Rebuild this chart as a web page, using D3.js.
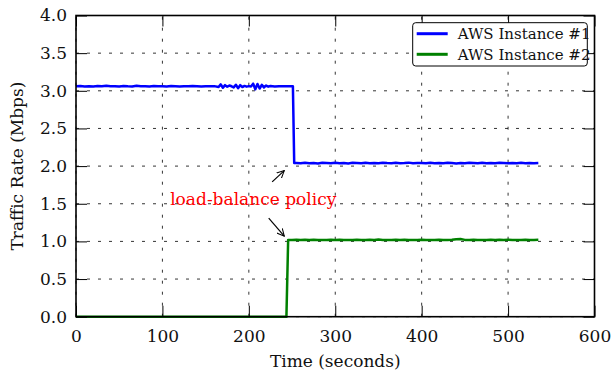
<!DOCTYPE html>
<html>
<head>
<meta charset="utf-8">
<title>traffic rate</title>
<script src="https://cdn.jsdelivr.net/npm/d3@7/dist/d3.min.js"></script>
<style>
  body{margin:0;background:#fff;}
  text{font-family:'DejaVu Serif',serif;fill:#111;}
</style>
</head>
<body>
<div id="chart"></div>
<script>
// tick values
var timeTicks = [0, 100, 200, 300, 400, 500, 600];
var rateTicks = [0, 0.5, 1.0, 1.5, 2.0, 2.5, 3.0, 3.5, 4.0];

// [seconds, Mbps]
var instance1 = [
  [0,3.060],[5,3.065],[10,3.058],[15,3.062],[20,3.057],[25,3.063],[30,3.060],[35,3.066],
  [40,3.059],[45,3.061],[50,3.056],[55,3.064],[60,3.060],[65,3.058],[70,3.067],[75,3.060],
  [80,3.062],[85,3.057],[90,3.063],[95,3.059],[100,3.061],[105,3.058],[110,3.064],[115,3.060],
  [120,3.057],[125,3.062],[130,3.059],[135,3.063],[140,3.060],[145,3.058],[150,3.061],[155,3.059],
  [160,3.062],[165,3.050],[167.5,3.085],[170,3.040],[172.5,3.075],[175,3.055],[177.5,3.070],
  [180,3.060],[182.5,3.045],[185,3.080],[187.5,3.035],[190,3.075],[192.5,3.050],[195,3.065],
  [197.5,3.055],[200,3.062],[202.5,3.058],[205,3.095],[207.5,3.020],[210,3.090],[212.5,3.030],
  [215,3.080],[217.5,3.045],[220,3.070],[222.5,3.055],[225,3.063],[230,3.058],[235,3.061],
  [240,3.060],[245,3.059],[250,3.062],[251,3.060],
  [252.5,2.040],[255,2.042],[260,2.037],[265,2.044],[270,2.039],[275,2.041],[280,2.036],
  [285,2.043],[290,2.040],[295,2.038],[300,2.045],[305,2.039],[310,2.041],[315,2.036],
  [320,2.043],[325,2.040],[330,2.038],[335,2.044],[340,2.039],[345,2.042],[350,2.037],
  [355,2.045],[360,2.040],[365,2.038],[370,2.043],[375,2.039],[380,2.041],[385,2.046],
  [390,2.038],[395,2.042],[400,2.040],[405,2.037],[410,2.044],[415,2.039],[420,2.042],
  [425,2.038],[430,2.043],[435,2.040],[440,2.036],[445,2.042],[450,2.039],[455,2.044],
  [460,2.040],[465,2.037],[470,2.043],[475,2.039],[480,2.041],[485,2.038],[490,2.044],
  [495,2.040],[500,2.037],[505,2.042],[510,2.039],[515,2.043],[520,2.038],[525,2.041],
  [530,2.039],[535,2.042]
];

var instance2 = [
  [0,0],[100,0],[200,0],[243.5,0],
  [245.5,1.020],[250,1.018],[255,1.022],[260,1.017],[265,1.021],[270,1.019],[275,1.022],
  [280,1.018],[285,1.020],[290,1.017],[295,1.021],[300,1.019],[305,1.022],[310,1.018],
  [315,1.020],[320,1.017],[325,1.021],[330,1.019],[335,1.018],[340,1.022],[345,1.019],
  [350,1.024],[355,1.018],[360,1.020],[365,1.017],[370,1.021],[375,1.019],[380,1.022],
  [385,1.018],[390,1.020],[395,1.019],[400,1.021],[405,1.018],[410,1.020],[415,1.017],
  [420,1.021],[425,1.019],[430,1.020],[435,1.022],[440,1.030],[445,1.031],[450,1.020],
  [455,1.018],[460,1.021],[465,1.019],[470,1.020],[475,1.017],[480,1.021],[485,1.019],
  [490,1.022],[495,1.018],[500,1.023],[505,1.019],[510,1.020],[515,1.018],[520,1.021],
  [525,1.019],[530,1.020],[535,1.021]
];

var seriesNames = ["AWS Instance #1", "AWS Instance #2"];
var seriesColors = ["#0000ff", "#008000"];

// annotation: text anchor and arrow [tail, head] in data units
var noteText = "load-balance policy";
var notePos = [109, 1.49];
var noteArrows = [
  [[227, 1.79], [241, 1.94]],
  [[223, 1.31], [241, 1.07]]
];

var W = 613, H = 373;
var margin = {top: 15.5, right: 18.5, bottom: 56.3, left: 76};

var svg = d3.select("#chart").append("svg")
    .attr("width", W)
    .attr("height", H);

var xScale = d3.scaleLinear().domain([0, 600]).range([margin.left, W - margin.right]);
var yScale = d3.scaleLinear().domain([0, 4]).range([H - margin.bottom, margin.top]);

var x0 = xScale.range()[0], x1 = xScale.range()[1];
var y0 = yScale.range()[0], y1 = yScale.range()[1];

// grid
var grid = svg.append("g").attr("class", "grid")
    .attr("stroke", "#000").attr("stroke-width", 0.8).attr("stroke-dasharray", "3,8");
grid.selectAll(".gx").data(timeTicks).enter().append("line")
    .attr("x1", d => xScale(d)).attr("x2", d => xScale(d))
    .attr("y1", y0).attr("y2", y1);
grid.selectAll(".gy").data(rateTicks).enter().append("line")
    .attr("y1", d => yScale(d)).attr("y2", d => yScale(d))
    .attr("x1", x0).attr("x2", x1);

// lines
var line = d3.line()
  .x(d => xScale(d[0]))
  .y(d => yScale(d[1]));

[instance1, instance2].forEach(function(s, i){
  svg.append("path")
    .datum(s)
    .attr("d", line)
    .attr("fill", "none")
    .attr("stroke", seriesColors[i])
    .attr("stroke-width", 2.5)
    .attr("stroke-linejoin", "round");
});

// axes, ticks pointing inwards on all four sides
var tickLen = 11;
var xAxisB = d3.axisBottom(xScale).tickValues(timeTicks).tickSizeInner(-tickLen).tickSizeOuter(0).tickPadding(13).tickFormat(d3.format("d"));
var xAxisT = d3.axisTop(xScale).tickValues(timeTicks).tickSizeInner(-tickLen).tickSizeOuter(0).tickFormat("");
var yAxisL = d3.axisLeft(yScale).tickValues(rateTicks).tickSizeInner(-tickLen).tickSizeOuter(0).tickPadding(9).tickFormat(d3.format(".1f"));
var yAxisR = d3.axisRight(yScale).tickValues(rateTicks).tickSizeInner(-tickLen).tickSizeOuter(0).tickFormat("");

svg.append("g").attr("transform", "translate(0," + y0 + ")").call(xAxisB);
svg.append("g").attr("transform", "translate(0," + y1 + ")").call(xAxisT);
svg.append("g").attr("transform", "translate(" + x0 + ",0)").call(yAxisL);
svg.append("g").attr("transform", "translate(" + x1 + ",0)").call(yAxisR);

svg.selectAll(".domain").remove();
svg.selectAll(".tick line").attr("stroke", "#000").attr("stroke-width", 1);
svg.selectAll(".tick text")
  .attr("font-family", null)
  .attr("font-size", null)
  .style("font-family", "'DejaVu Serif', serif")
  .style("font-size", "17px")
  .attr("fill", "#111");

// frame
svg.append("rect")
  .attr("x", x0).attr("y", y1)
  .attr("width", x1 - x0).attr("height", y0 - y1)
  .attr("fill", "none").attr("stroke", "#000").attr("stroke-width", 1.6);

// axis labels
svg.append("text")
  .attr("x", (x0 + x1) / 2).attr("y", 367)
  .attr("text-anchor", "middle")
  .style("font-size", "17px")
  .text("Time (seconds)");

svg.append("text")
  .attr("transform", "translate(22.5," + ((y0 + y1) / 2) + ") rotate(-90)")
  .attr("text-anchor", "middle")
  .style("font-size", "17px")
  .text("Traffic Rate (Mbps)");

// annotation
svg.append("defs").append("marker")
  .attr("id", "head")
  .attr("viewBox", "0 -5 10 10")
  .attr("refX", 9).attr("refY", 0)
  .attr("markerWidth", 8).attr("markerHeight", 8)
  .attr("markerUnits", "userSpaceOnUse")
  .attr("orient", "auto")
  .append("path")
  .attr("d", "M0,-4.5L9,0L0,4.5")
  .attr("fill", "none").attr("stroke", "#000").attr("stroke-width", 1.3);

svg.selectAll(".arrow").data(noteArrows).enter().append("line")
  .attr("class", "arrow")
  .attr("x1", d => xScale(d[0][0])).attr("y1", d => yScale(d[0][1]))
  .attr("x2", d => xScale(d[1][0])).attr("y2", d => yScale(d[1][1]))
  .attr("stroke", "#000").attr("stroke-width", 1.2)
  .attr("marker-end", "url(#head)");

svg.append("text")
  .attr("x", xScale(notePos[0])).attr("y", yScale(notePos[1]))
  .style("font-size", "17px")
  .style("fill", "#ff0000")
  .text(noteText);

// legend
var lg = svg.append("g").attr("transform", "translate(412.7,22.7)");
lg.append("rect")
  .attr("width", 174.6).attr("height", 43.3)
  .attr("rx", 3).attr("ry", 3)
  .attr("fill", "#fff").attr("stroke", "#000").attr("stroke-width", 1);
seriesNames.forEach(function(n, i){
  var yy = 11 + i * 20.6;
  lg.append("line")
    .attr("x1", 4).attr("x2", 35)
    .attr("y1", yy).attr("y2", yy)
    .attr("stroke", seriesColors[i]).attr("stroke-width", 3);
  lg.append("text")
    .attr("x", 45).attr("y", yy)
    .attr("dy", "0.36em")
    .style("font-size", "15px")
    .text(n);
});
</script>
</body>
</html>
